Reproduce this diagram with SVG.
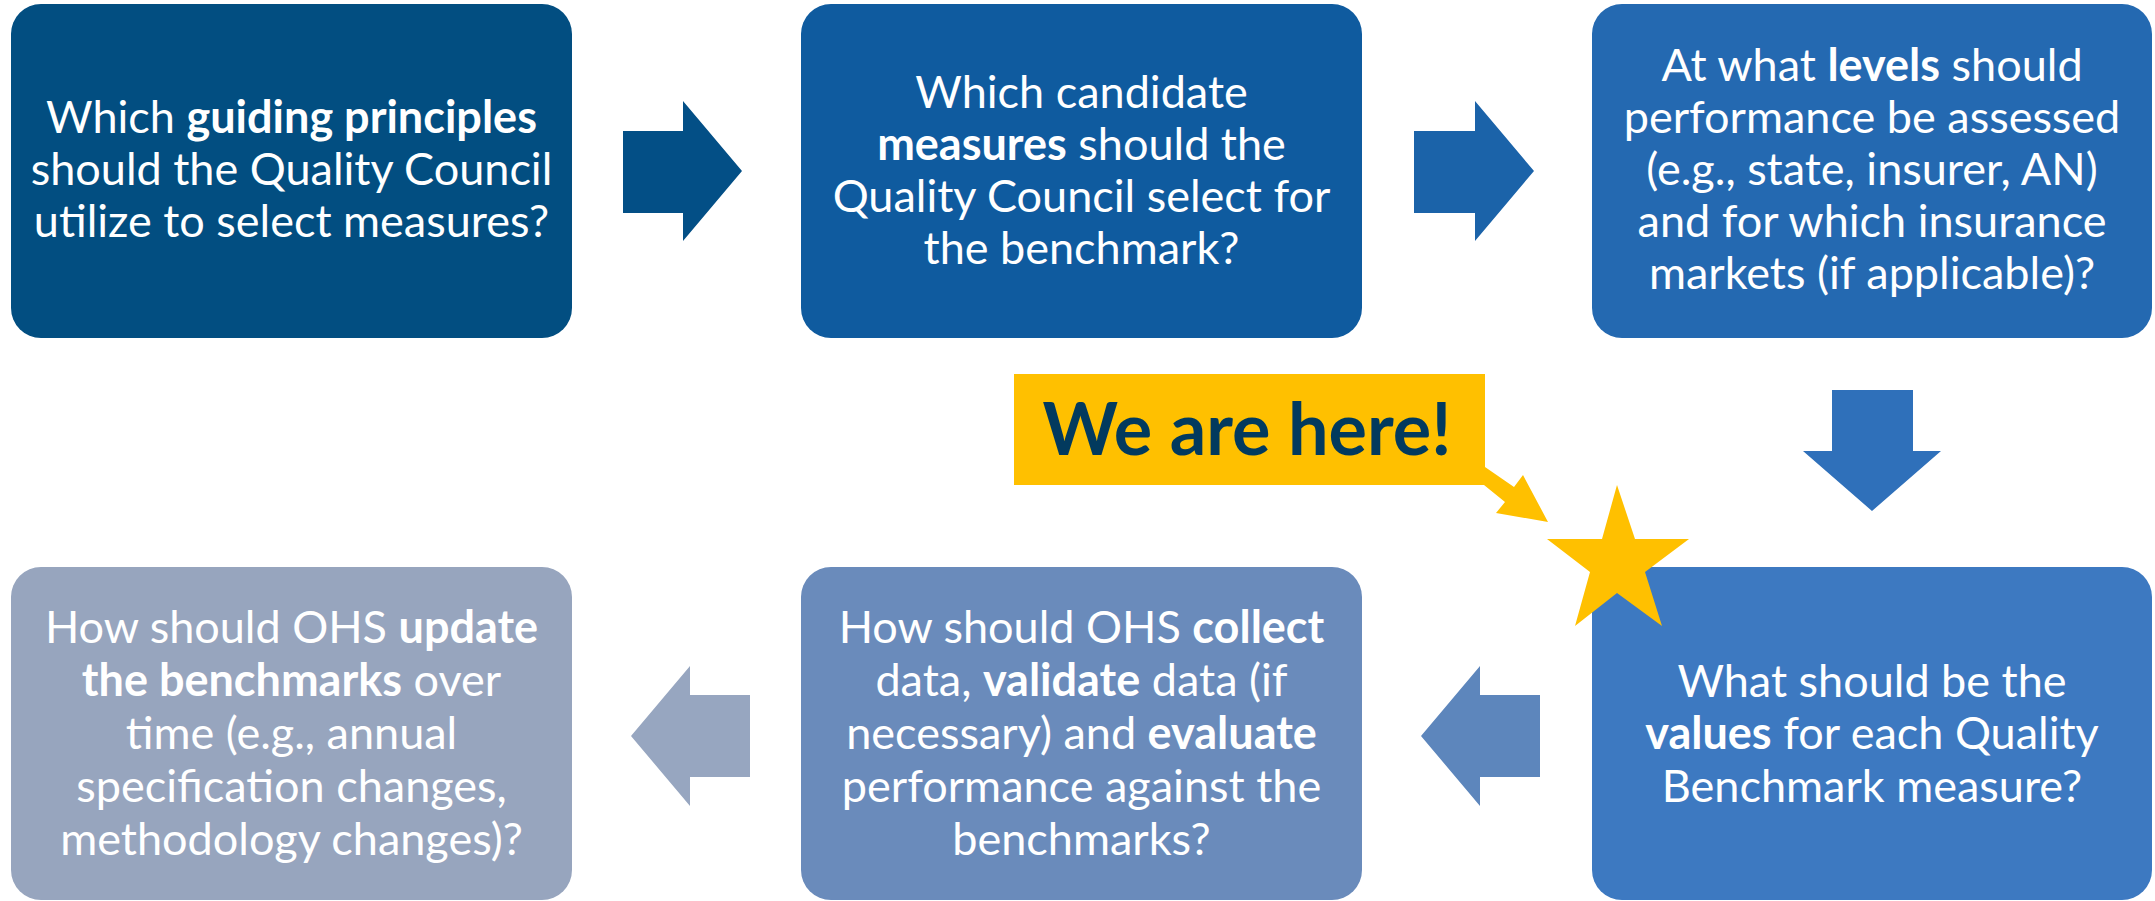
<svg xmlns="http://www.w3.org/2000/svg" width="2155" height="901" viewBox="0 0 2155 901">
<style>
.t{font-family:Lato,"Open Sans","Liberation Sans",sans-serif;font-size:45px;fill:#fff;text-anchor:middle}
.b{font-weight:bold}
.call{font-family:Lato,"Open Sans","Liberation Sans",sans-serif;font-size:72px;font-weight:bold;fill:#023A5E;text-anchor:middle}
</style>
<rect width="2155" height="901" fill="#fff"/>
<g id="connectors">
<polygon points="623,131 683,131 683,101 742,171 683,241 683,213 623,213" fill="#034F86"/>
<polygon points="1414,131 1475,131 1475,101 1534,171 1475,241 1475,213 1414,213" fill="#1B63A9"/>
<polygon points="1832,390 1913,390 1913,451 1941,451 1872,511 1803,451 1832,451" fill="#2F70BA"/>
<polygon points="1540,695 1480,695 1480,666 1421,736 1480,806 1480,777 1540,777" fill="#5D86BC"/>
<polygon points="750,695 690,695 690,666 631,736 690,806 690,777 750,777" fill="#97A6C0"/>
</g>
<g id="n1">
<rect x="11" y="4" width="561" height="334" rx="30" fill="#024E81"/>
<text class="t" x="291.5" y="133">Which <tspan class="b">guiding principles</tspan></text>
<text class="t" x="291.5" y="185">should the Quality Council</text>
<text class="t" x="291.5" y="237">utilize to select measures?</text>
</g>
<g id="n2">
<rect x="801" y="4" width="561" height="334" rx="30" fill="#0F5B9F"/>
<text class="t" x="1081.5" y="108">Which candidate</text>
<text class="t" x="1081.5" y="160"><tspan class="b">measures</tspan> should the</text>
<text class="t" x="1081.5" y="212">Quality Council select for</text>
<text class="t" x="1081.5" y="264">the benchmark?</text>
</g>
<g id="n3">
<rect x="1592" y="4" width="560" height="334" rx="30" fill="#2469B1"/>
<text class="t" x="1872" y="81">At what <tspan class="b">levels</tspan> should</text>
<text class="t" x="1872" y="133">performance be assessed</text>
<text class="t" x="1872" y="185">(e.g., state, insurer, AN)</text>
<text class="t" x="1872" y="237">and for which insurance</text>
<text class="t" x="1872" y="289">markets (if applicable)?</text>
</g>
<g id="n4">
<rect x="1592" y="567" width="560" height="333" rx="30" fill="#3D79C1"/>
<text class="t" x="1872" y="697">What should be the</text>
<text class="t" x="1872" y="749"><tspan class="b">values</tspan> for each Quality</text>
<text class="t" x="1872" y="802">Benchmark measure?</text>
</g>
<g id="n5">
<rect x="801" y="567" width="561" height="333" rx="30" fill="#6A8BBB"/>
<text class="t" x="1081.5" y="643">How should OHS <tspan class="b">collect</tspan></text>
<text class="t" x="1081.5" y="696">data, <tspan class="b">validate</tspan> data (if</text>
<text class="t" x="1081.5" y="749">necessary) and <tspan class="b">evaluate</tspan></text>
<text class="t" x="1081.5" y="802">performance against the</text>
<text class="t" x="1081.5" y="855">benchmarks?</text>
</g>
<g id="n6">
<rect x="11" y="567" width="561" height="333" rx="30" fill="#97A5BE"/>
<text class="t" x="291.5" y="643">How should OHS <tspan class="b">update</tspan></text>
<text class="t" x="291.5" y="696"><tspan class="b">the benchmarks</tspan> over</text>
<text class="t" x="291.5" y="749">time (e.g., annual</text>
<text class="t" x="291.5" y="802">specification changes,</text>
<text class="t" x="291.5" y="855">methodology changes)?</text>
</g>
<g id="callout">
<rect x="1014" y="374" width="471" height="111" fill="#FFC000"/>
<polygon points="1485,467 1514,487 1523,475 1548,522 1496,513 1505,502 1484,485" fill="#FFC000"/>
<text class="call" x="1247" y="455">We are here!</text>
</g>
<g id="star">
<polygon points="1617,485 1635,539 1689,539 1645,572 1662,626 1617,593 1575,626 1590,572 1547,539 1602,539" fill="#FFC000"/>
</g>
</svg>
